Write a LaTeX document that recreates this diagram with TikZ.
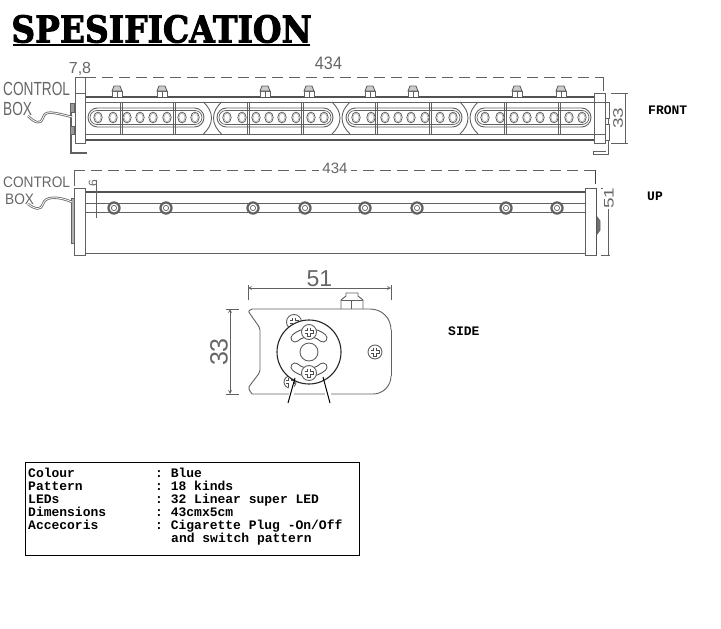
\documentclass[tikz,border=0pt]{standalone}
\usepackage{fontspec}
\setsansfont{Liberation Sans}
\setmonofont{Liberation Mono}
\newfontfamily\titlefont[BoldFeatures={FakeBold=2.5}]{DejaVu Serif}
\newcommand{\specfont}{\ttfamily\bfseries\fontsize{13}{13}\selectfont}

\begin{document}
\begin{tikzpicture}[
  x=1pt, y=-1pt,
  part/.style={draw=black!62, line width=0.9pt},
  heavy/.style={draw=black!68, line width=1.4pt},
  dimline/.style={draw=black!62, line width=0.7pt},
  dashline/.style={dimline, dashed, dash pattern=on 11pt off 6pt},
  cable/.style={draw=black!60, line width=0.8pt},
  cadtext/.style={inner sep=0pt, text=black!60, font=\sffamily\fontsize{#1}{#1}\selectfont},
  spectext/.style={inner sep=0pt, anchor=base west, font=\specfont},
  bolt/.pic={
    \draw[part, fill=white] (-5,12) -- (-5,6) -- (5,6) -- (5,12);
    \draw[part, fill=black!20] (-5,6) -- (-3,1) -- (3,1) -- (5,6) -- cycle;
    \draw[part] (0,6) -- (0,12);
  },
  led/.pic={
    \draw[part, line width=0.8pt, fill=white] (0,0) ellipse (4.2 and 5.4);
    \draw[black!35, line width=0.5pt] (0,0) ellipse (3 and 4.2);
  },
  stud/.pic={
    \fill[black!62] (0,0) circle (6.7);
    \fill[white] (0,0) circle (4.4);
    \draw[black!60, line width=0.7pt] (0,0) circle (2.6);
  },
  screw/.pic={
    \draw[part, fill=white] (0,0) circle (#1);
    \draw[black!70, line width=3.6pt] (-4.5,0) -- (4.5,0) (0,-4.5) -- (0,4.5);
    \draw[white, line width=2pt] (-4,0) -- (4,0) (0,-4) -- (0,4);
  }
]
\useasboundingbox (0,0) rectangle (721,629);

% title
\node[inner sep=0pt, anchor=center] (title) at (161.5,29)
  {\titlefont\bfseries\fontsize{37}{37}\selectfont\scalebox{0.89}[1]{SPESIFICATION}};
\coordinate (titleL) at (13,45);
\coordinate (titleR) at (310,45);
\draw[black, line width=2pt] (titleL) -- (titleR);

% front view
\draw[heavy] (85,97) -- (594,97) (85,140) -- (594,140);
\draw[part] (85,102) -- (594,102) (85,134) -- (594,134);
\foreach \mx in {117,162,265,309,370,413,517,561}
  \pic at (\mx,85) {bolt};
\foreach \mx in {0,129,258,387} {
  \draw[part, rounded corners=9.5pt] (88+\mx,108) rectangle (204+\mx,127);
  \draw[part, line width=0.7pt, rounded corners=7pt] (90+\mx,110.5) rectangle (202+\mx,124.5);
  \foreach \lx in {98,113,127,140,153,167,182,195}
    \pic at (\lx+\mx,117.5) {led};
}
\foreach \mx in {212.5,341,469} {
  \draw[part] (\mx-9,102) .. controls (\mx-4,107) and (\mx-1,112) .. (\mx-1,118) .. controls (\mx-1,124) and (\mx-4,129) .. (\mx-9,134);
  \draw[part] (\mx+9,102) .. controls (\mx+4,107) and (\mx+1,112) .. (\mx+1,118) .. controls (\mx+1,124) and (\mx+4,129) .. (\mx+9,134);
}
\foreach \mx in {121,174,248,302,376,430,505,559}
  \draw[part] (\mx-1,102) -- (\mx-1,134) (\mx+1,102) -- (\mx+1,134);

% end caps and brackets, front
\draw[part, line width=1.2pt] (71,104) -- (71,153) -- (87,153);
\draw[part, fill=black!40] (70,103) rectangle (74,112);
\draw[part, fill=black!40] (70,126) rectangle (74,134);
\draw[part, fill=white] (75,93) rectangle (85,143);
\draw[part] (608,102) -- (608,154) -- (593,154) -- (593,151) -- (606,151);
\draw[part, fill=white] (605,102) rectangle (609,118);
\draw[part, fill=white] (605,124) rectangle (609,140);
\draw[part, fill=white] (594,93) rectangle (605,143);
\draw[part] (594,102) -- (605,102) (594,134) -- (605,134);

% front dimensions
\coordinate (frontdimL) at (85,77);
\coordinate (frontdimR) at (603,77);
\draw[dashline] (frontdimL) -- (frontdimR);
\draw[dimline] (frontdimR) -- (603,91) (85,77) -- (85,93) (75,77) -- (75,93) (75,77) -- (85,77);
\node[cadtext=16] (dimsmall) at (80,69) {7,8};
\node[cadtext=18] (dimfront) at (328.5,63.5) {\scalebox{0.9}[1]{434}};
\coordinate (heightT) at (625,93);
\coordinate (heightB) at (625,143);
\draw[dimline] (heightT) -- (heightB) (611,93) -- (628,93) (611,143) -- (628,143);
\node[cadtext=19, rotate=90] (dimheight) at (618,118) {\scalebox{1}[0.73]{33}};
\node[cadtext=19, anchor=west] (ctrlA) at (3,88.5) {\scalebox{0.72}[1]{CONTROL}};
\node[cadtext=19, anchor=west] (boxA) at (3,108.5) {\scalebox{0.72}[1]{BOX}};
\coordinate (cableA) at (28,116);
\coordinate (cableB) at (72,117);
\draw[cable, double=white, double distance=0.8pt] (cableA) .. controls (36,124) and (41,124) .. (43,118) .. controls (45,110) and (52,112) .. (cableB);

% top view
\draw[heavy] (85,192) -- (585,192);
\draw[part] (85,253) -- (585,253);
\draw[part] (85,203) -- (585,203) (85,212) -- (585,212);
\foreach \mx in {114,166,253,305,365,417,506,557}
  \pic at (\mx,208) {stud};
\draw[part, fill=black!30] (71,198) rectangle (74,243);
\draw[part, fill=white] (74,188) rectangle (85,255);
\draw[part, fill=white] (585,188) rectangle (596,255);
\draw[heavy] (596.5,188) -- (596.5,255);
\draw[part, fill=black!55] (597,217) -- (600,221) -- (600,230) -- (597,234) -- cycle;

% top dimensions
\coordinate (topdimL) at (74,170);
\coordinate (topdimR) at (595,170);
\draw[dashline] (topdimL) -- (topdimR);
\draw[dimline] (topdimL) -- (74,186);
\draw[black!75, line width=1pt] (topdimR) -- (595,184);
\node[cadtext=15, fill=white, inner xsep=3pt] (dimtop) at (335,168) {434};
\coordinate (studT) at (96,180);
\coordinate (studB) at (96,218);
\draw[dimline] (studT) -- (studB) (85,203) -- (98,203) (85,212) -- (98,212);
\node[cadtext=12, rotate=90] (dimstud) at (93,183) {6};
\coordinate (widthT) at (608,188);
\coordinate (widthB) at (608,255);
\draw[dimline] (widthT) -- (widthB) (601,188) -- (610,188) (601,255) -- (610,255);
\node[cadtext=19, rotate=90, fill=white, inner ysep=1pt] (dimwidth) at (609,198) {\scalebox{1}[0.73]{51}};
\node[cadtext=19, anchor=west] (ctrlB) at (3,182) {\scalebox{0.72}[0.8]{CONTROL}};
\node[cadtext=19, anchor=west] (boxB) at (5,199.5) {\scalebox{0.72}[0.8]{BOX}};
\coordinate (cableC) at (28,204);
\coordinate (cableD) at (72,202);
\draw[cable, double=white, double distance=0.8pt] (cableC) .. controls (36,210) and (41,210) .. (43,204) .. controls (45,196) and (58,196) .. (cableD);

% side view
\draw[part] (341,309) -- (341,300) -- (346,296) -- (346,293) -- (358,293) -- (358,296) -- (363,300) -- (363,309);
\draw[part] (341,300) -- (363,300) (351,300) -- (351,309);
\draw[part, fill=white, rounded corners=2pt] (252,309) -- (248,311) -- (260,328) -- (260,372) -- (248,388) -- (252,394);
\draw[part] (252,309) -- (370,309) .. controls (382,309) and (391,318) .. (391,330);
\draw[part] (391,330) -- (391,376);
\draw[part] (252,394) -- (373,394) .. controls (383,394) and (391,386) .. (391,376);
\pic at (294,322) {screw=7.5};
\pic at (290,382) {screw=6};
\pic at (375,352) {screw=7};
\draw[black!85, line width=1.1pt, fill=white] (309,352) circle (32);
\draw[black!70, line width=9pt, line cap=round] (295,338) .. controls (303,331) and (315,331) .. (323,338);
\draw[white, line width=7pt, line cap=round] (295,338) .. controls (303,331) and (315,331) .. (323,338);
\draw[black!70, line width=9pt, line cap=round] (295,367) .. controls (303,374) and (315,374) .. (323,367);
\draw[white, line width=7pt, line cap=round] (295,367) .. controls (303,374) and (315,374) .. (323,367);
\draw[part] (309,352) circle (9);
\pic at (309,332) {screw=7.5};
\pic at (309,373) {screw=7.5};
\fill[white] (289,383) rectangle (294,403);
\fill[white] (325,383) rectangle (331,403);
\draw[black, line width=1pt] (295,378) -- (288,403) (323,377) -- (330,403);

% side dimensions
\coordinate (sideL) at (248,288);
\coordinate (sideR) at (391,288);
\draw[dimline, <->, >=stealth] (sideL) -- (sideR);
\draw[dimline] (248,285) -- (248,300) (391,285) -- (391,300);
\node[cadtext=23, inner ysep=0pt] (dimside) at (319.5,279) {51};
\coordinate (sideT) at (230,309);
\coordinate (sideB) at (230,394);
\draw[dimline, <->, >=stealth] (sideT) -- (sideB);
\draw[dimline] (226,309) -- (239,309) (226,394) -- (239,394);
\node[cadtext=25, rotate=90] (dimsideh) at (219,352) {33};

% view names
\node[spectext] (front) at (648,114) {FRONT};
\node[spectext] (up) at (647,200) {UP};
\node[spectext] (side) at (448,335) {SIDE};

% spec box
\node[draw=black, line width=1pt, minimum width=334pt, minimum height=93pt, anchor=north west, inner sep=0pt] (specbox) at (25,462) {};
\node[spectext] (keyA) at (28,477) {Colour};
\node[spectext] (keyB) at (28,490) {Pattern};
\node[spectext] (keyC) at (28,503) {LEDs};
\node[spectext] (keyD) at (28,516) {Dimensions};
\node[spectext] (keyE) at (28,529) {Accecoris};
\node[spectext] (valA) at (155,477) {: Blue};
\node[spectext] (valB) at (155,490) {: 18 kinds};
\node[spectext] (valC) at (155,503) {: 32 Linear super LED};
\node[spectext] (valD) at (155,516) {: 43cmx5cm};
\node[spectext] (valE) at (155,529) {: Cigarette Plug -On/Off};
\node[spectext] (valF) at (171,542) {and switch pattern};
\end{tikzpicture}
\end{document}
